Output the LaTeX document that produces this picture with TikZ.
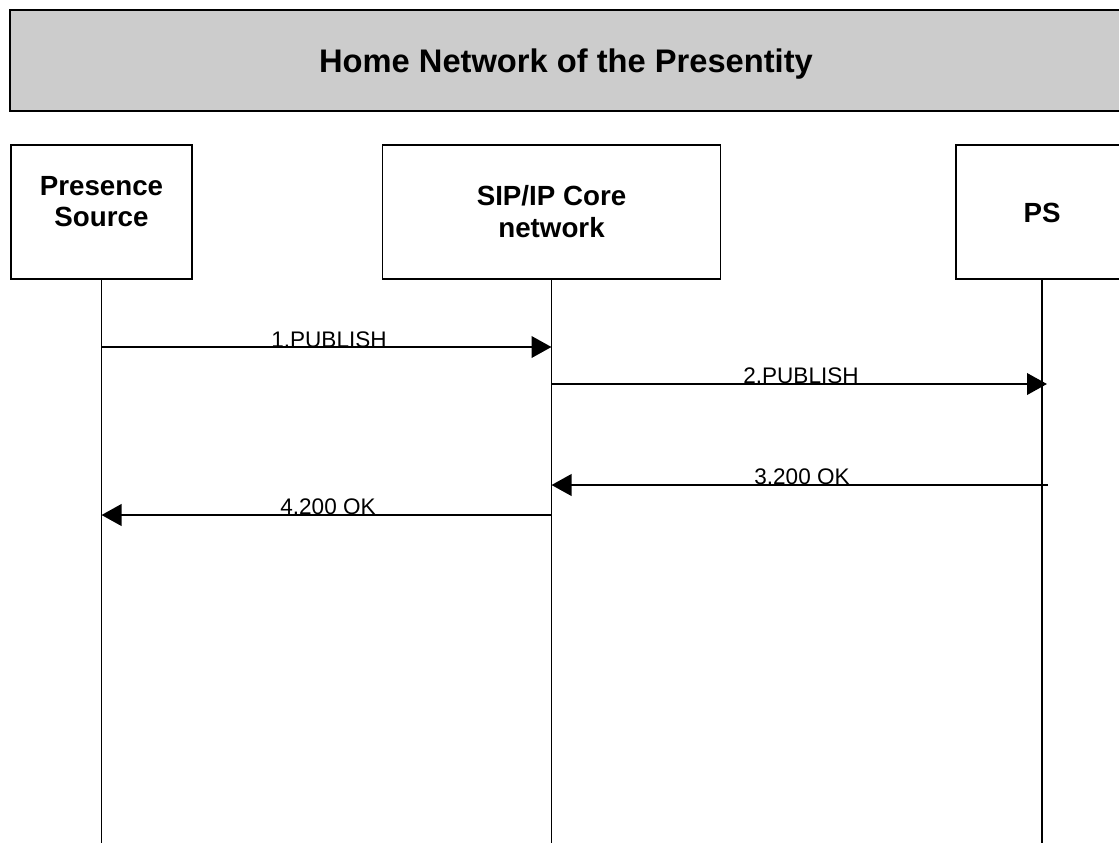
\documentclass[tikz,border=0pt]{standalone}
\usepackage{fontspec}
\setmainfont{Liberation Sans}
\usetikzlibrary{arrows.meta}
\definecolor{bannergray}{HTML}{CCCCCC}
\tikzset{
  entity/.style={draw=black, line width=1pt, fill=white, inner sep=0pt, minimum height=100.5pt},
  etext/.style={align=center, inner sep=0pt, font=\fontsize{20.8}{23.5}\selectfont\bfseries},
  lifeline/.style={draw=black, line width=0.8pt},
  msg/.style={draw=black, line width=2.1pt, -{Triangle[length=15pt,width=16pt]}},
  msglabel/.style={inner sep=0pt, anchor=base, font=\fontsize{16.9}{20}\selectfont},
}
\begin{document}
\begin{tikzpicture}[x=0.75pt, y=-0.75pt]
\useasboundingbox (0,0) rectangle (1119,843);
\clip (0,0) rectangle (1119,843);
\fill[white] (0,0) rectangle (1119,843);
% banner
\node[draw=black, line width=1pt, fill=bannergray, inner sep=0pt,
      minimum width=840pt, minimum height=75.75pt] (banner) at (570,60.5) {};
\node[inner sep=0pt, anchor=base, font=\fontsize{24.5}{28}\selectfont\bfseries]
      (title) at (566,72) {Home Network of the Presentity};
% entities
\node[entity, minimum width=135.75pt] (src) at (101.5,212) {};
\node[etext] (srct) at (101.5,201.5) {Presence\\Source};
\node[entity, minimum width=253.5pt] (core) at (551.5,212) {};
\node[etext] (coret) at (551.5,211.5) {SIP/IP Core\\network};
\node[entity, minimum width=129pt] (ps) at (1042,212) {};
\node[etext] (pst) at (1042,212.5) {PS};
% lifeline ends
\coordinate (srcend) at (101.5,843);
\coordinate (coreend) at (551.5,843);
\coordinate (psend) at (1042,843);
\draw[lifeline] (src.south) -- (srcend);
\draw[lifeline] (core.south) -- (coreend);
\draw[lifeline] (ps.south) -- (psend);
% message points
\coordinate (m1a) at (101.5,347);
\coordinate (m1b) at (551.5,347);
\coordinate (m2a) at (551.5,384);
\coordinate (m2b) at (1047,384);
\coordinate (m3a) at (1048,485);
\coordinate (m3b) at (551.5,485);
\coordinate (m4a) at (551.5,515);
\coordinate (m4b) at (101.5,515);
% labels
\node[msglabel] (l1) at (329,347) {1.PUBLISH};
\node[msglabel] (l2) at (801,383) {2.PUBLISH};
\node[msglabel] (l3) at (802,484) {3.200 OK};
\node[msglabel] (l4) at (328,514) {4.200 OK};
% messages
\draw[msg] (m1a) -- (m1b);
\draw[msg] (m2a) -- (m2b);
\draw[msg] (m3a) -- (m3b);
\draw[msg] (m4a) -- (m4b);
\end{tikzpicture}
\end{document}
